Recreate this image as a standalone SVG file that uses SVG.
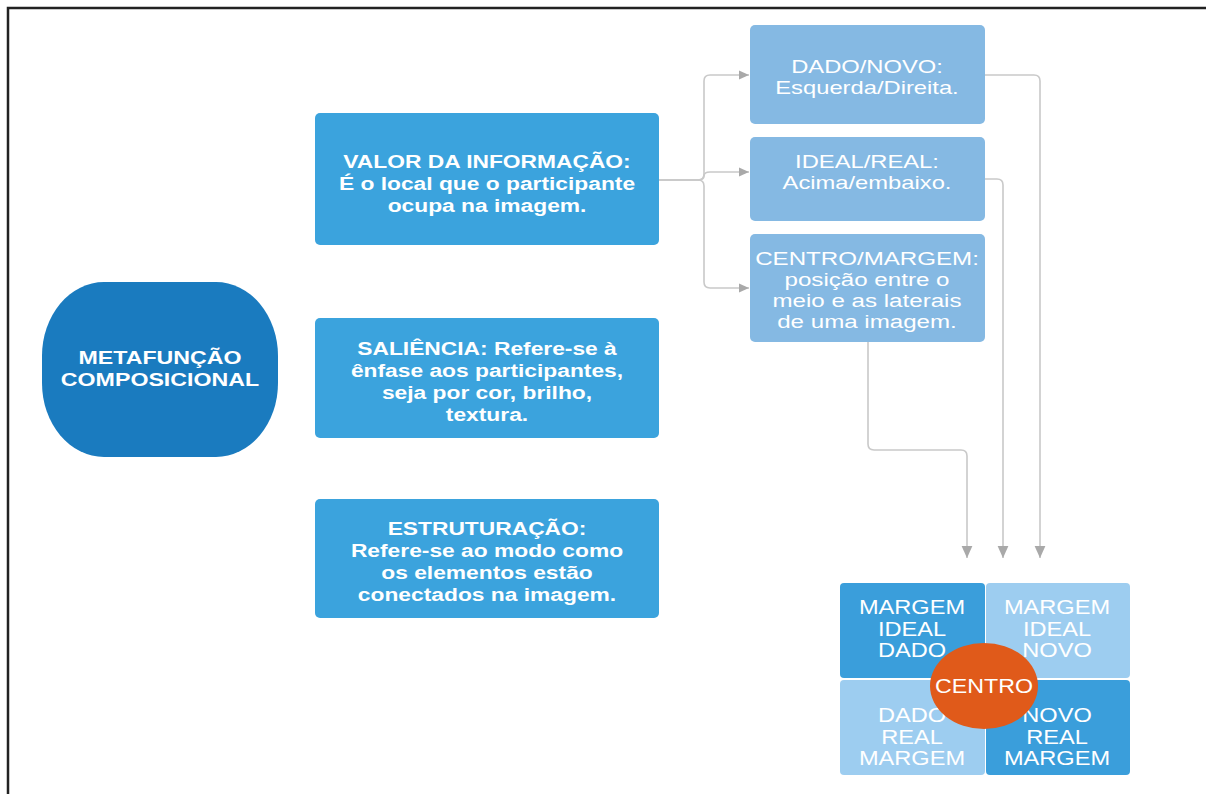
<svg xmlns="http://www.w3.org/2000/svg" width="1206" height="794" viewBox="0 0 1206 794">
<defs>
<style>
text{font-family:"Liberation Sans",Arial,sans-serif;fill:#ffffff;text-anchor:middle}
.b{font-weight:bold;font-size:19px}
.r{font-size:19px}
.g{font-size:20px}
.main{fill:#3ba3dd}
.sub{fill:#85b9e3}
.dk{fill:#3a9edb}
.lt{fill:#9dcdf0}
.conn{fill:none;stroke:#c9c9c9;stroke-width:1.6}
</style>
<marker id="arr" viewBox="0 0 10 10" refX="10" refY="5" markerWidth="12" markerHeight="10" markerUnits="userSpaceOnUse" orient="auto">
<path d="M0,0.5 L10,5 L0,9.5 Z" fill="#a9a9a9"/>
</marker>
<marker id="arrd" viewBox="0 0 10 10" refX="10" refY="5" markerWidth="12" markerHeight="12" markerUnits="userSpaceOnUse" orient="auto">
<path d="M0,0.5 L10,5 L0,9.5 Z" fill="#a9a9a9"/>
</marker>
</defs>
<rect width="1206" height="794" fill="#ffffff"/>
<path d="M8,800 V8 H1210" fill="none" stroke="#222" stroke-width="2.5"/>

<g id="connectors">
<path class="conn" marker-end="url(#arr)" d="M659,180 H698 Q704,180 704,174 V81 Q704,75 710,75 H749"/>
<path class="conn" marker-end="url(#arr)" d="M659,180 H698 Q704,180 704,176 Q704,172 710,172 H749"/>
<path class="conn" marker-end="url(#arr)" d="M659,180 H698 Q704,180 704,186 V282 Q704,288 710,288 H749"/>
<path class="conn" marker-end="url(#arrd)" d="M985,75 H1034 Q1040,75 1040,81 V558"/>
<path class="conn" marker-end="url(#arrd)" d="M985,179 H997 Q1003,179 1003,185 V558"/>
<path class="conn" marker-end="url(#arrd)" d="M868,342 V444 Q868,450 874,450 H961 Q967,450 967,456 V558"/>
</g>

<g id="metafuncao">
<rect x="42" y="282" width="236" height="175" rx="62" ry="74" fill="#1a7bbf"/>
<g transform="translate(160 0) scale(1.22 1)">
<text class="b" x="0" y="364">METAFUNÇÃO</text>
<text class="b" x="0" y="386">COMPOSICIONAL</text>
</g>
</g>

<g id="valor">
<rect class="main" x="315" y="113" width="344" height="132" rx="5"/>
<g transform="translate(487 0) scale(1.2 1)">
<text class="b" x="0" y="168">VALOR DA INFORMAÇÃO:</text>
<text class="b" x="0" y="190">É o local que o participante</text>
<text class="b" x="0" y="212">ocupa na imagem.</text>
</g>
</g>

<g id="saliencia">
<rect class="main" x="315" y="318" width="344" height="120" rx="5"/>
<g transform="translate(487 0) scale(1.2 1)">
<text class="b" x="0" y="355">SALIÊNCIA: Refere-se à</text>
<text class="b" x="0" y="377">ênfase aos participantes,</text>
<text class="b" x="0" y="399">seja por cor, brilho,</text>
<text class="b" x="0" y="421">textura.</text>
</g>
</g>

<g id="estruturacao">
<rect class="main" x="315" y="499" width="344" height="119" rx="5"/>
<g transform="translate(487 0) scale(1.2 1)">
<text class="b" x="0" y="535">ESTRUTURAÇÃO:</text>
<text class="b" x="0" y="557">Refere-se ao modo como</text>
<text class="b" x="0" y="579">os elementos estão</text>
<text class="b" x="0" y="601">conectados na imagem.</text>
</g>
</g>

<g id="dadonovo">
<rect class="sub" x="750" y="25" width="235" height="99" rx="5"/>
<g transform="translate(867 0) scale(1.25 1)">
<text class="r" x="0" y="73">DADO/NOVO:</text>
<text class="r" x="0" y="94">Esquerda/Direita.</text>
</g>
</g>

<g id="idealreal">
<rect class="sub" x="750" y="137" width="235" height="84" rx="5"/>
<g transform="translate(867 0) scale(1.25 1)">
<text class="r" x="0" y="168">IDEAL/REAL:</text>
<text class="r" x="0" y="189">Acima/embaixo.</text>
</g>
</g>

<g id="centromargem">
<rect class="sub" x="750" y="234" width="235" height="108" rx="5"/>
<g transform="translate(867 0) scale(1.27 1)">
<text class="r" x="0" y="265">CENTRO/MARGEM:</text>
<text class="r" x="0" y="286">posição entre o</text>
<text class="r" x="0" y="307">meio e as laterais</text>
<text class="r" x="0" y="328">de uma imagem.</text>
</g>
</g>

<g id="grade">
<rect class="dk" x="840" y="583" width="145" height="95" rx="4"/>
<rect class="lt" x="986" y="583" width="144" height="95" rx="4"/>
<rect class="lt" x="840" y="680" width="145" height="95" rx="4"/>
<rect class="dk" x="986" y="680" width="144" height="95" rx="4"/>
<g transform="translate(912 0) scale(1.18 1)">
<text class="g" x="0" y="614">MARGEM</text>
<text class="g" x="0" y="636">IDEAL</text>
<text class="g" x="0" y="657">DADO</text>
<text class="g" x="0" y="722">DADO</text>
<text class="g" x="0" y="744">REAL</text>
<text class="g" x="0" y="765">MARGEM</text>
</g>
<g transform="translate(1057 0) scale(1.18 1)">
<text class="g" x="0" y="614">MARGEM</text>
<text class="g" x="0" y="636">IDEAL</text>
<text class="g" x="0" y="657">NOVO</text>
<text class="g" x="0" y="722">NOVO</text>
<text class="g" x="0" y="744">REAL</text>
<text class="g" x="0" y="765">MARGEM</text>
</g>
</g>

<g id="centro">
<ellipse cx="984" cy="686" rx="54" ry="43" fill="#e05a1a"/>
<g transform="translate(984 0) scale(1.16 1)">
<text class="g" x="0" y="693">CENTRO</text>
</g>
</g>
</svg>
